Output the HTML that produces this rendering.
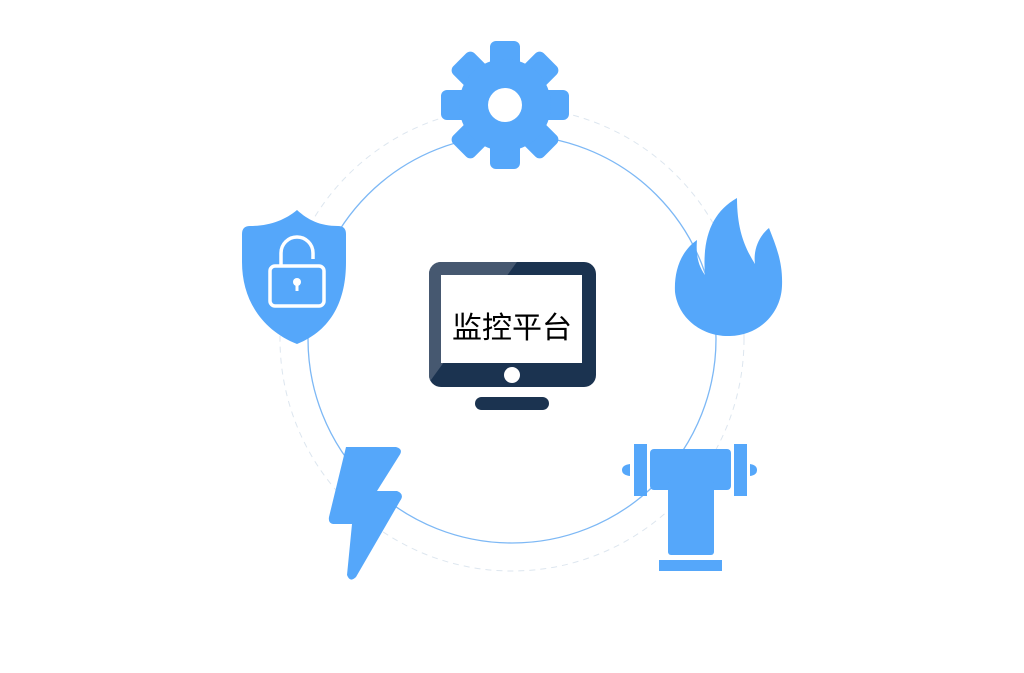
<!DOCTYPE html>
<html><head><meta charset="utf-8"><style>
html,body{margin:0;padding:0;background:#fff;width:1024px;height:673px;overflow:hidden}
</style></head><body>
<svg width="1024" height="673" viewBox="0 0 1024 673" xmlns="http://www.w3.org/2000/svg">
<defs><clipPath id="mc"><rect x="429" y="262" width="167" height="125" rx="12"/></clipPath></defs>
<circle cx="512" cy="339" r="232" fill="none" stroke="#dde6ef" stroke-width="1" stroke-dasharray="6 5"/>
<circle cx="512" cy="339" r="204" fill="none" stroke="#7db8f5" stroke-width="1.3"/>
<g fill="#55a7fa">
<g transform="translate(505,105)">
<rect x="-15" y="-64" width="30" height="128" rx="6"/>
<rect x="-64" y="-15" width="128" height="30" rx="6"/>
<rect x="-15" y="-64" width="30" height="128" rx="6" transform="rotate(45)"/>
<rect x="-15" y="-64" width="30" height="128" rx="6" transform="rotate(-45)"/>
<circle r="46"/>
<circle r="17" fill="#fff"/>
</g>
<path d="M297,210 C285,220 270,226 250,226 Q242,226 242,234 L242,262 C242,300 262,330 297,344 C332,330 346,300 346,262 L346,234 Q346,226 338,226 C320,226 308,220 297,210 Z"/>
<path d="M737,198 C712,212 702,238 705,275 C697,264 696,252 697,240 C680,252 674,272 675,292 C678,318 702,337 730,336 C760,335 781,313 782,286 C783,262 776,246 769,228 C759,236 753,250 755,264 C745,248 737,230 737,198 Z"/>
<path d="M346,447 L396,447 Q404,449 399,456 L377,491 L397,491 Q405,494 400,501 L356,577 Q350,583 347,575 L352,524 L333,524 Q328,523 329,517 Z"/>
<rect x="650" y="449" width="81" height="41" rx="4"/>
<rect x="668" y="480" width="46" height="75" rx="3"/>
<rect x="659" y="560" width="63" height="11"/>
<rect x="634" y="444" width="13" height="52"/>
<rect x="734" y="444" width="13" height="52"/>
<path d="M630,464 L630,476 Q622,475 622,470 Q622,465 630,464Z"/>
<path d="M750,464 L750,476 Q757,475 757,470 Q757,465 750,464Z"/>
</g>
<g fill="none" stroke="#fff" stroke-width="3.5">
<rect x="270" y="266" width="54" height="40" rx="5"/>
<path d="M281,266 L281,253 A16,16 0 0 1 313,253 L313,259"/>
</g>
<circle cx="297" cy="282" r="4" fill="#fff"/>
<rect x="295.5" y="282" width="3" height="9" fill="#fff"/>
<rect x="429" y="262" width="167" height="125" rx="12" fill="#1b3350"/>
<path d="M420,255 L522,255 L420,395 Z" fill="#465870" clip-path="url(#mc)"/>
<rect x="441" y="275" width="141" height="88" fill="#fff"/>
<circle cx="512" cy="375" r="8" fill="#fff"/>
<rect x="475" y="397" width="74" height="13" rx="6.5" fill="#1b3350"/>
<text x="512" y="338" text-anchor="middle" font-family="'Liberation Sans','Noto Sans CJK SC',sans-serif" font-size="30" fill="#000">监控平台</text>
</svg>
</body></html>
